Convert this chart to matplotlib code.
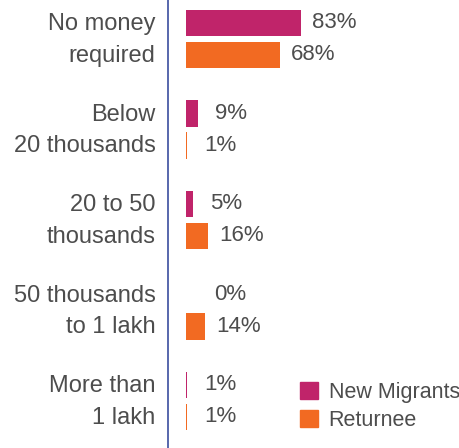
import numpy as np
import matplotlib
matplotlib.use("Agg")
import matplotlib.pyplot as plt
import matplotlib.transforms as mtransforms
from matplotlib.patches import Patch

plt.rcParams['font.family'] = ['Liberation Sans', 'DejaVu Sans']

categories = ["No money\nrequired", "Below\n20 thousands", "20 to 50\nthousands",
              "50 thousands\nto 1 lakh", "More than\n1 lakh"]
new_migrants = [83, 9, 5, 0, 1]
returnee = [68, 1, 16, 14, 1]
series_names = ["New Migrants", "Returnee"]

magenta = "#c0246a"
orange = "#f26a22"
text_col = "#4d4d4d"

fig = plt.figure(figsize=(4.59, 4.48), dpi=100)
ax = fig.add_axes([168 / 459, 0, 1 - 168 / 459, 1])

y = np.arange(len(categories))
off = 0.177
h = 0.29
ax.barh(y - off, new_migrants, height=h, color=magenta)
ax.barh(y + off, returnee, height=h, color=orange)


def pad_for(v):
    # small bars get their label pushed a bit further out
    if v == 0:
        return 20
    return 8 if v > 10 else 12


for yi, v in zip(y - off, new_migrants):
    ax.annotate(f"{v}%", (v, yi), xytext=(pad_for(v), 0), textcoords="offset points",
                va="center", ha="left", fontsize=16, color=text_col)
for yi, v in zip(y + off, returnee):
    ax.annotate(f"{v}%", (v, yi), xytext=(pad_for(v), 0), textcoords="offset points",
                va="center", ha="left", fontsize=16, color=text_col)

ax.set_xlim(-13, 197)
ax.set_ylim(4.52, -0.43)
ax.set_yticks(y)
ax.set_yticklabels(categories, fontsize=17, color=text_col, linespacing=1.55)
ax.tick_params(axis="y", length=0, pad=9)
# nudge the two-line category labels up a touch
lift = mtransforms.ScaledTranslation(0, 6 / 100, fig.dpi_scale_trans)
for lbl in ax.get_yticklabels():
    lbl.set_transform(lbl.get_transform() + lift)
ax.set_xticks([])
for s in ["top", "right", "bottom"]:
    ax.spines[s].set_visible(False)
ax.spines["left"].set_color("#4a5ca6")
ax.spines["left"].set_linewidth(1.3)

handles = [Patch(color=magenta), Patch(color=orange)]
ax.legend(handles, series_names, loc="lower right", bbox_to_anchor=(1.07, -0.005),
          frameon=False, fontsize=15.5, handlelength=0.85, handleheight=0.85,
          handletextpad=0.5, labelspacing=0.3, labelcolor=text_col)

fig.savefig("out.png", dpi=100)
